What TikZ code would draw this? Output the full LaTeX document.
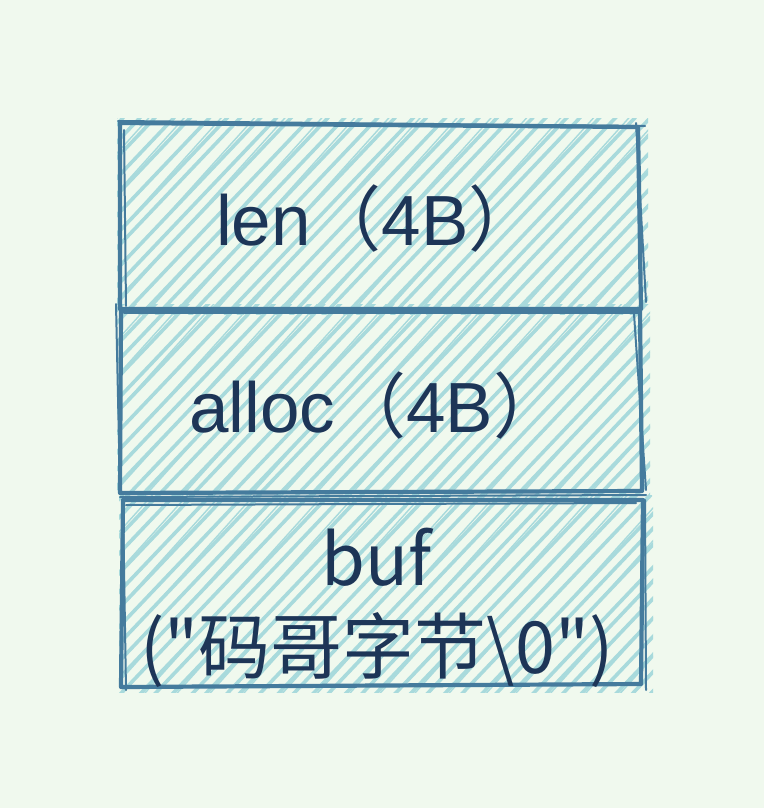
\documentclass[tikz,border=0pt]{standalone}
\usepackage{fontspec}
\setmainfont{Liberation Sans}
\newfontfamily\cjk{Noto Sans CJK SC}
\definecolor{bgc}{HTML}{F0F9EE}
\definecolor{hach}{HTML}{A8DADC}
\definecolor{edge}{HTML}{457B9D}
\definecolor{ink}{HTML}{1D3557}
\tikzset{
  hachline/.style={draw=hach,line width=3.6pt,line cap=round},
  hachthin/.style={draw=hach,line width=1.4pt,line cap=round},
  boxedge/.style={draw=edge,line width=4.2pt,line cap=round,line join=round},
  boxedgethin/.style={draw=edge,line width=2pt,line cap=round},
  label/.style={text=ink,inner sep=0pt,anchor=base west},
}
\begin{document}
\begin{tikzpicture}[x=1pt,y=-1pt]
\useasboundingbox[fill=bgc] (0,0) rectangle (764,808);
\pgfmathsetseed{7}
% hachures
\foreach \xa/\ya/\xb/\yb in {120/123/638/309, 120/309/640/493, 122/500/643/687}{
  \begin{scope}
    \clip (\xa-3,\ya-5) rectangle (\xb+10,\yb+5);
    \foreach \i in {-12,...,34}{
      \pgfmathsetmacro{\jit}{rand*3}
      \pgfmathsetmacro{\xs}{\xa+\i*17+\jit}
      \draw[hachline] (\xs,\yb+8) -- ++(200*0.95,-200);
      \ifodd\i
        \draw[hachthin] (\xs+4,\yb+8) -- ++(200*0.9,-200);
      \fi
    }
  \end{scope}
}
% box 1
\draw[boxedge] (120,123) -- (638,127) -- (641,309) -- (120,309) -- cycle;
\draw[boxedgethin] (118,121) -- (645,126);
\draw[boxedgethin] (636,123) -- (646,302);
\draw[boxedgethin] (124,130) -- (126,306);
% box 2
\draw[boxedge] (121,311) -- (640,311) -- (642,491) -- (120,493) -- cycle;
\draw[boxedgethin] (116,304) -- (120,490);
\draw[boxedgethin] (634,314) -- (646,490);
\draw[boxedgethin] (124,313) -- (640,313);
% box 3
\draw[boxedge] (123,500) -- (643,500) -- (641,684) -- (121,687) -- cycle;
\draw[boxedgethin] (120,497) -- (646,495);
\draw[boxedgethin] (126,505) -- (636,503);
\draw[boxedgethin] (645,500) -- (646,690);
\draw[boxedgethin] (123,503) -- (126,690);
% labels
\node[label] (len) at (216,245) {\fontsize{71}{80}\selectfont len{\cjk （}4B{\cjk ）}};
\node[label] (alloc) at (189,432) {\fontsize{71}{80}\selectfont alloc{\cjk （}4B{\cjk ）}};
\node[label,anchor=base] (buf) at (377,585) {\cjk\fontsize{71}{80}\selectfont buf};
\node[label,anchor=base] (bufval) at (377,673) {\cjk\fontsize{72}{80}\selectfont ("码哥字节\textbackslash 0")};
\end{tikzpicture}
\end{document}
